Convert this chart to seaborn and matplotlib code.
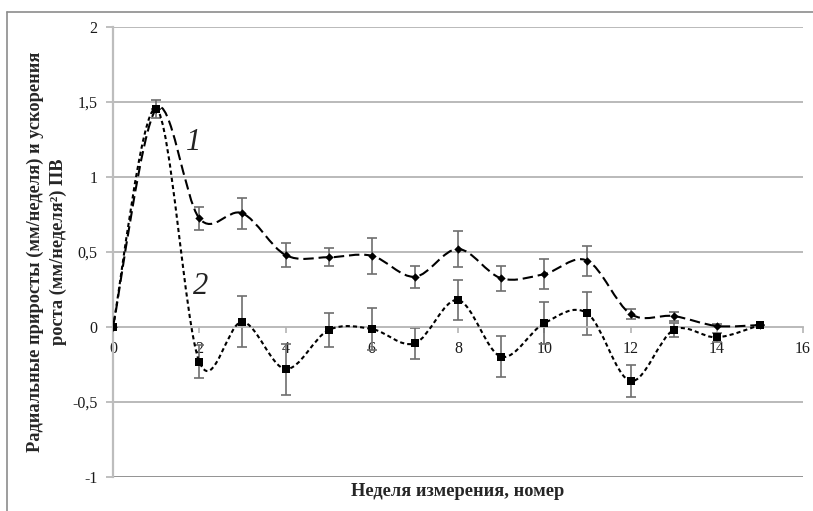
import numpy as np
import pandas as pd
import matplotlib
matplotlib.use("Agg")
import matplotlib.pyplot as plt
from matplotlib.path import Path
from matplotlib.patches import PathPatch
from matplotlib.lines import Line2D
import seaborn as sns

# Weekly measurements
weeks = list(range(16))
growth = [0.0, 1.455, 0.725, 0.758, 0.48, 0.465, 0.475, 0.335, 0.52, 0.325,
          0.353, 0.442, 0.087, 0.073, 0.007, 0.013]
growth_err = [0.0, 0.06, 0.077, 0.105, 0.08, 0.06, 0.12, 0.075, 0.12, 0.083,
              0.10, 0.10, 0.035, 0.03, 0.01, 0.0]
accel = [0.0, 1.455, -0.231, 0.035, -0.28, -0.02, -0.013, -0.109, 0.18, -0.198,
         0.025, 0.091, -0.36, -0.02, -0.069, 0.013]
accel_err = [0.0, 0.0, 0.11, 0.17, 0.17, 0.115, 0.14, 0.105, 0.135, 0.135,
             0.14, 0.145, 0.105, 0.045, 0.03, 0.0]

x_ticks = [0, 2, 4, 6, 8, 10, 12, 14, 16]
y_ticks = [-1, -0.5, 0, 0.5, 1, 1.5, 2]
y_tick_labels = ["-1", "-0,5", "0", "0,5", "1", "1,5", "2"]

df = pd.DataFrame({"week": weeks, "growth": growth, "accel": accel})

sns.set_style("white")
plt.rcParams["font.family"] = ["Liberation Serif", "DejaVu Serif"]
plt.rcParams["lines.scale_dashes"] = False

fig = plt.figure(figsize=(8.13, 5.11), dpi=100)
ax = fig.add_axes([113 / 813, 1 - 477 / 511, 690 / 813, 450 / 511])


def smooth_path(xs, ys):
    """Cubic Bezier path through the points (spreadsheet-style smoothing)."""
    pts = np.column_stack([xs, ys]).astype(float)
    n = len(pts)
    verts = [pts[0]]
    codes = [Path.MOVETO]
    for i in range(n - 1):
        p_prev = pts[i - 1] if i > 0 else pts[i]
        p0, p1 = pts[i], pts[i + 1]
        p_next = pts[i + 2] if i + 2 < n else pts[i + 1]
        c1 = p0 + (p1 - p_prev) / 6.0
        c2 = p1 - (p_next - p0) / 6.0
        verts += [c1, c2, p1]
        codes += [Path.CURVE4] * 3
    return Path(verts, codes)


# Smoothed dashed curves
ax.add_patch(PathPatch(smooth_path(df["week"], df["growth"]), fill=False,
                       edgecolor="black", lw=1.5, linestyle=(0, (7.5, 3.5)),
                       zorder=3))
ax.add_patch(PathPatch(smooth_path(df["week"], df["accel"]), fill=False,
                       edgecolor="black", lw=1.5, linestyle=(0, (3.0, 2.2)),
                       zorder=3))

# Error bars
ax.errorbar(weeks, growth, yerr=growth_err, fmt="none", ecolor="#6e6e6e",
            elinewidth=1.2, capsize=3.5, capthick=1.2, zorder=2)
ax.errorbar(weeks, accel, yerr=accel_err, fmt="none", ecolor="#6e6e6e",
            elinewidth=1.2, capsize=3.5, capthick=1.2, zorder=2)

# Markers
sns.scatterplot(data=df, x="week", y="growth", marker="D", s=18, color="black",
                edgecolor="black", linewidth=0, ax=ax, zorder=4)
sns.scatterplot(data=df, x="week", y="accel", marker="s", s=26, color="black",
                edgecolor="black", linewidth=0, ax=ax, zorder=4)

ax.set_xlim(0, 16)
ax.set_ylim(-1, 2)
ax.set_xticks(x_ticks)
ax.set_xticklabels([str(t) for t in x_ticks])
ax.set_yticks(y_ticks)
ax.set_yticklabels(y_tick_labels)

# Gridlines and axis lines
for yv in [-0.5, 0.5, 1, 1.5, 2]:
    ax.axhline(yv, color="#b4b4b4", lw=1.3, zorder=0)
ax.axhline(-1, color="#8a8a8a", lw=1.3, zorder=0)

for side in ["top", "right"]:
    ax.spines[side].set_visible(False)
ax.spines["left"].set_color("#bdbdbd")
ax.spines["left"].set_linewidth(1.6)
ax.spines["bottom"].set_position(("data", 0))
ax.spines["bottom"].set_color("#b4b4b4")
ax.spines["bottom"].set_linewidth(1.3)

ax.tick_params(axis="x", direction="out", length=4, width=1.2, color="#b4b4b4",
               pad=6, labelsize=11.5, labelcolor="#1a1a1a")
ax.tick_params(axis="y", direction="out", length=5, width=1.2, color="#b4b4b4",
               pad=6, labelsize=11.5, labelcolor="#1a1a1a")
ax.tick_params(bottom=True, left=True)

ax.set_xlabel("")
ax.set_ylabel("")

# Axis titles
fig.text(458 / 813, 1 - 492 / 511, "Неделя измерения, номер", ha="center",
         va="center", fontsize=13.2, fontweight="bold")
fig.text(35 / 813, 1 - 252 / 511,
         "Радиальные приросты (мм/неделя) и ускорения", ha="center",
         va="center", rotation=90, fontsize=13.2, fontweight="bold")
fig.text(58 / 813, 1 - 252 / 511, "роста (мм/неделя²) ПВ", ha="center",
         va="center", rotation=90, fontsize=13.2, fontweight="bold")

# Curve numbers
ax.text(1.86, 1.23, "1", fontsize=22, fontstyle="italic", ha="center",
        va="center", color="#222222")
ax.text(2.02, 0.273, "2", fontsize=22, fontstyle="italic", ha="center",
        va="center", color="#222222")

# Outer frame
fig.add_artist(Line2D([7 / 813, 1.0], [1 - 12 / 511, 1 - 12 / 511],
                      transform=fig.transFigure, color="#8c8c8c", lw=1.2))
fig.add_artist(Line2D([7 / 813, 7 / 813], [0, 1 - 12 / 511],
                      transform=fig.transFigure, color="#8c8c8c", lw=1.2))

fig.savefig("out.png", dpi=100)
